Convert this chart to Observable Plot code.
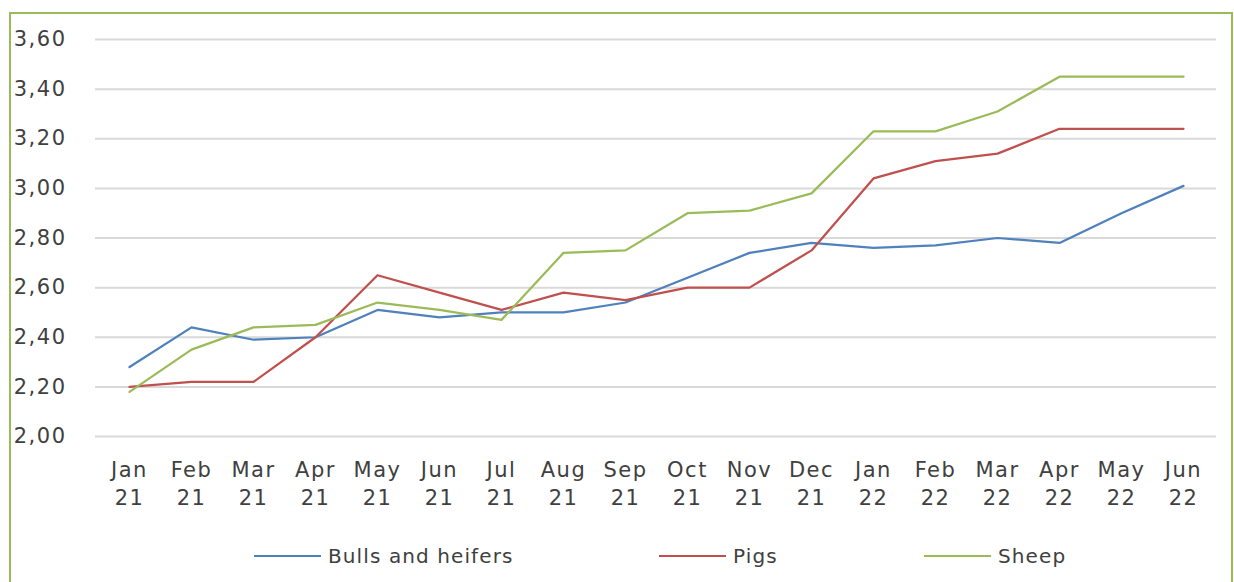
<!DOCTYPE html>
<html><head><meta charset="utf-8">
<script src="https://cdn.jsdelivr.net/npm/d3@7"></script>
<script src="https://cdn.jsdelivr.net/npm/@observablehq/plot@0.6"></script>
<style>
body{margin:0;background:#fff;}
#wrap{position:relative;width:1234px;height:582px;overflow:hidden;font-family:"DejaVu Sans",sans-serif;color:#404040;}
#chart{position:absolute;left:0;top:0;}
#frame{position:absolute;left:9px;top:12px;width:1220px;height:640px;border:2px solid #9bbb59;pointer-events:none;}
#legend{position:absolute;left:0;top:545px;width:1234px;height:22px;}
.item{position:absolute;top:0;height:22px;display:flex;align-items:center;font-size:20px;letter-spacing:1.1px;}
.sw{display:inline-block;width:67px;height:0;border-top:2.25px solid;margin-right:7px;}
</style></head>
<body>
<div id="wrap"><div id="chart"></div><div id="legend"></div><div id="frame"></div></div>
<script>
const months = ["Jan\n21","Feb\n21","Mar\n21","Apr\n21","May\n21","Jun\n21","Jul\n21","Aug\n21","Sep\n21","Oct\n21","Nov\n21","Dec\n21","Jan\n22","Feb\n22","Mar\n22","Apr\n22","May\n22","Jun\n22"];
const bulls = [2.28,2.44,2.39,2.40,2.51,2.48,2.50,2.50,2.54,2.64,2.74,2.78,2.76,2.77,2.80,2.78,2.90,3.01];
const pigs  = [2.20,2.22,2.22,2.40,2.65,2.58,2.51,2.58,2.55,2.60,2.60,2.75,3.04,3.11,3.14,3.24,3.24,3.24];
const sheep = [2.18,2.35,2.44,2.45,2.54,2.51,2.47,2.74,2.75,2.90,2.91,2.98,3.23,3.23,3.31,3.45,3.45,3.45];
const seriesNames = ["Bulls and heifers","Pigs","Sheep"];
const seriesColors = ["#4f81bd","#c0504d","#9bbb59"];
const yTicks = [2.0,2.2,2.4,2.6,2.8,3.0,3.2,3.4,3.6];

const seriesValues = [bulls, pigs, sheep];
const rows = [];
seriesNames.forEach((name, s) => seriesValues[s].forEach((v, i) => rows.push({series: name, month: months[i], value: v})));

const fmt = d => d.toFixed(2).replace(".", ",");

const chart = Plot.plot({
  width: 1234, height: 520,
  marginLeft: 95, marginRight: 18, marginTop: 39, marginBottom: 84,
  style: {fontFamily: "DejaVu Sans, sans-serif", fontSize: "21px", letterSpacing: "1.5px", color: "#404040", background: "transparent"},
  x: {type: "point", domain: months, padding: 0.5, label: null},
  y: {domain: [2, 3.6], label: null},
  color: {domain: seriesNames, range: seriesColors},
  marks: [
    Plot.gridY(yTicks, {stroke: "#d9d9d9", strokeOpacity: 1, strokeWidth: 2}),
    Plot.axisY(yTicks, {tickSize: 0, tickPadding: 29, tickFormat: fmt, fill: "#404040", fontSize: 21, label: null}),
    Plot.axisX({tickSize: 0, tickPadding: 21, lineHeight: 1.33, fontSize: 21, fill: "#404040", label: null}),
    Plot.line(rows, {x: "month", y: "value", z: "series", stroke: "series", strokeWidth: 2.25})
  ]
});
document.getElementById("chart").appendChild(chart);

const legendLeft = [254, 659, 924];
const legend = document.getElementById("legend");
seriesNames.forEach((name, i) => {
  const it = document.createElement("div");
  it.className = "item";
  it.style.left = legendLeft[i] + "px";
  const sw = document.createElement("span");
  sw.className = "sw";
  sw.style.borderTopColor = seriesColors[i];
  it.appendChild(sw);
  it.appendChild(document.createTextNode(name));
  legend.appendChild(it);
});
</script>
</body></html>
